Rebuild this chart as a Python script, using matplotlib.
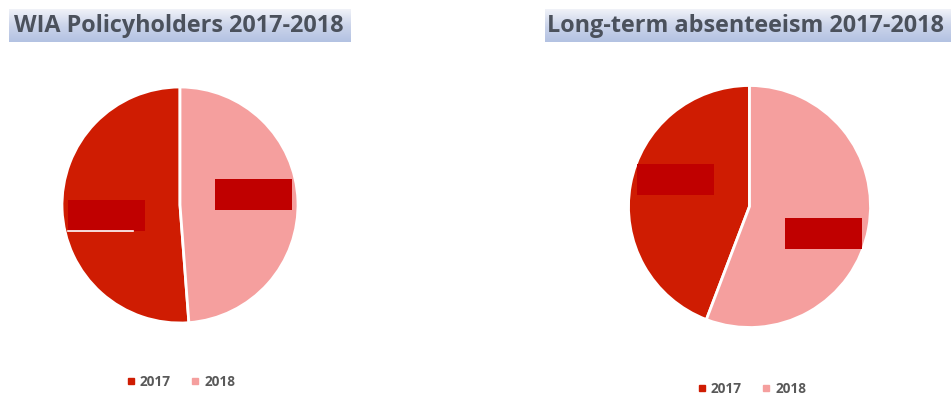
import numpy as np
import matplotlib.pyplot as plt
from matplotlib.colors import LinearSegmentedColormap
from matplotlib.lines import Line2D
from matplotlib.patches import Rectangle

years = ["2017", "2018"]
wia_share = [51.2, 48.8]
absence_share = [44.2, 55.8]

titles = ["WIA Policyholders 2017-2018", "Long-term absenteeism 2017-2018"]

COL_2017 = "#cf1c02"
COL_2018 = "#f59f9e"
LABEL_BOX = "#c00000"
TITLE_COL = "#4b515c"
LEGEND_COL = "#595959"

W, H = 951, 397
fig = plt.figure(figsize=(W / 100, H / 100), dpi=100)

band = LinearSegmentedColormap.from_list("band", ["#f0f2f8", "#cbd4ea", "#b3c2e2"])


def px_axes(x0, y0, x1, y1):
    # axes from pixel box (top-left origin)
    return fig.add_axes([x0 / W, 1 - y1 / H, (x1 - x0) / W, (y1 - y0) / H])


def title_band(x0, x1, text, tx, size):
    bax = px_axes(x0, 9, x1, 42)
    grad = np.linspace(0, 1, 64).reshape(-1, 1)
    bax.imshow(grad, aspect="auto", cmap=band, extent=[0, 1, 0, 1], origin="upper")
    bax.axis("off")
    fig.text(tx / W, 1 - 25.5 / H, text, ha="left", va="center", fontsize=size,
             fontweight="bold", family="Open Sans", color=TITLE_COL)


def draw_pie(cx, cy, r, values, turn, dist=0.63, underline=False):
    ax = px_axes(cx - r, cy - r, cx + r, cy + r)
    wedges, _ = ax.pie(values, colors=[COL_2017, COL_2018], startangle=90,
                       counterclock=True,
                       wedgeprops=dict(edgecolor="white", linewidth=2))
    ax.set_xlim(-1, 1)
    ax.set_ylim(-1, 1)
    ax.axis("off")
    # data label boxes, placed along each slice's middle angle
    bw, bh = 77 / r, 31 / r
    for i, w in enumerate(wedges):
        mid = np.deg2rad((w.theta1 + w.theta2) / 2 + turn)
        lx, ly = dist * np.cos(mid), dist * np.sin(mid)
        ax.add_patch(Rectangle((lx - bw / 2, ly - bh / 2), bw, bh,
                               facecolor=LABEL_BOX, edgecolor="none", zorder=3))
        if underline and i == 0:
            ax.plot([lx - bw / 2, lx + bw / 2 - 12 / r], [ly - bh / 2, ly - bh / 2],
                    color="white", lw=1.2, zorder=4)
    return ax


def legend(cx, cy):
    handles = [Line2D([], [], marker="s", ls="none", ms=4, color=c)
               for c in (COL_2017, COL_2018)]
    fig.legend(handles, years, loc="center", bbox_to_anchor=(cx / W, 1 - cy / H),
               ncol=2, frameon=False, handlelength=0.6, handletextpad=0.35,
               columnspacing=1.5, prop=dict(family="Open Sans", weight="bold", size=9.8),
               labelcolor=LEGEND_COL)


title_band(9, 351, titles[0], 14, 16.8)
title_band(545, 951, titles[1], 547, 16.8)

draw_pie(180, 205, 118, wia_share, 6, underline=True)
draw_pie(749.5, 206.5, 121, absence_share, -10, dist=0.65)

legend(181, 382)
legend(752, 389)

fig.savefig("out.png", dpi=100)
